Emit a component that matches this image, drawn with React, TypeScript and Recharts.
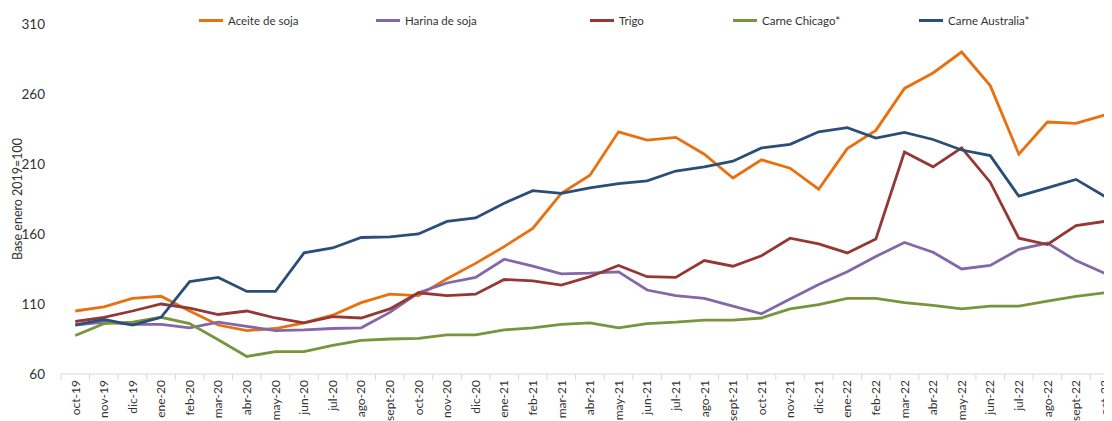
import React from "react";
import { LineChart, Line, XAxis, YAxis } from "recharts";

const months = [
  "oct-19", "nov-19", "dic-19", "ene-20", "feb-20", "mar-20", "abr-20", "may-20",
  "jun-20", "jul-20", "ago-20", "sept-20", "oct-20", "nov-20", "dic-20", "ene-21",
  "feb-21", "mar-21", "abr-21", "may-21", "jun-21", "jul-21", "ago-21", "sept-21",
  "oct-21", "nov-21", "dic-21", "ene-22", "feb-22", "mar-22", "abr-22", "may-22",
  "jun-22", "jul-22", "ago-22", "sept-22", "oct-22",
];

const aceiteSoja = [
  105, 108, 114, 115.5, 105, 95, 91, 92.5, 96.5, 102, 111, 117, 116, 128, 139, 151,
  164, 189, 202, 233, 227, 229, 217, 200, 213, 207, 192, 221, 234, 264, 275, 290,
  266, 217, 240, 239, 245,
];

const harinaSoja = [
  95, 97, 95.5, 95.5, 93, 97, 94, 91, 91.5, 92.5, 93, 104, 118, 125, 129, 142,
  137, 131.5, 132, 133, 120, 116, 114, 108.5, 103, 113.5, 124, 133, 144, 154, 147, 135,
  137.5, 149, 153.5, 141, 132,
];

const trigo = [
  97.5, 100.5, 105, 110, 107, 102.5, 105, 100, 96.5, 101, 100, 106.5, 118, 116, 117, 127.5,
  126.5, 123.5, 129.5, 137.5, 129.5, 129, 141, 137, 144.5, 157, 153, 146.5, 156.5, 218.5, 208, 221.5,
  197, 157, 152.5, 166, 169,
];

const carneChicago = [
  87.5, 96, 97, 100.5, 96, 84.5, 72.5, 76, 76, 80.5, 84, 85, 85.5, 88, 88, 91.5,
  93, 95.5, 96.5, 93, 96, 97, 98.5, 98.5, 100, 106.5, 109.5, 114, 114, 111, 109, 106.5,
  108.5, 108.5, 112, 115.5, 118,
];

const carneAustralia = [
  95, 99, 95, 100.5, 126, 129, 119, 119, 146.5, 150, 157.5, 158, 160, 169, 171.5, 182,
  191, 189, 193, 196, 198, 205, 208, 212, 221.5, 224, 233, 236, 228.5, 232.5, 227.5, 220,
  216, 187, 193, 199, 187,
];

const yTicks = [60, 110, 160, 210, 260, 310];

const series = [
  { key: "aceite", name: "Aceite de soja", color: "#E8700F", values: aceiteSoja },
  { key: "harina", name: "Harina de soja", color: "#8467A8", values: harinaSoja },
  { key: "trigo", name: "Trigo", color: "#953735", values: trigo },
  { key: "chicago", name: "Carne Chicago*", color: "#77953A", values: carneChicago },
  { key: "australia", name: "Carne Australia*", color: "#2B4E78", values: carneAustralia },
];

const data = months.map((month, i) => {
  const row: Record<string, string | number> = { month };
  series.forEach((s) => {
    row[s.key] = s.values[i];
  });
  return row;
});

const FONT = "Lato, 'Open Sans', sans-serif";
const TEXT = "#333333";
const AXIS = "#D9D9D9";
const HALF_BAND = 14.3;

// legend slots as laid out in the source chart
const legendLeft = [191, 368, 582, 725, 911];

const MonthTick = (props: any) => {
  const { x, y, payload } = props;
  return (
    <g>
      <line x1={x - HALF_BAND} x2={x - HALF_BAND} y1={y} y2={y + 6} stroke={AXIS} />
      <text
        transform={`translate(${x},${y + 6}) rotate(-90)`}
        textAnchor="end"
        dy="0.35em"
        fontSize={12}
        fontFamily={FONT}
        fill={TEXT}
      >
        {payload.value}
      </text>
    </g>
  );
};

const YLabel = (props: any) => {
  const { viewBox } = props;
  const cy = viewBox.y + viewBox.height / 2;
  return (
    <text
      transform={`translate(10,${cy}) rotate(-90)`}
      textAnchor="middle"
      dy="0.35em"
      fontSize={12.5}
      fontFamily={FONT}
      fill={TEXT}
    >
      Base enero 2019=100
    </text>
  );
};

export default function App() {
  return (
    <div style={{ position: "relative", width: 1104, height: 413, fontFamily: FONT }}>
      <LineChart
        width={1104}
        height={413}
        data={data}
        margin={{ top: 16, right: 0, bottom: 0, left: 0 }}
      >
        <XAxis
          dataKey="month"
          interval={0}
          padding={{ left: 14.3, right: 7.4 }}
          tick={<MonthTick />}
          tickLine={false}
          tickSize={0}
          tickMargin={0}
          axisLine={{ stroke: AXIS }}
          height={47}
        />
        <YAxis
          domain={[60, 310]}
          ticks={yTicks}
          width={53}
          axisLine={false}
          tickLine={false}
          tickSize={0}
          tickMargin={16}
          tick={{ fontSize: 13.5, fill: TEXT, fontFamily: FONT }}
          label={<YLabel />}
        />
        {series.map((s) => (
          <Line
            key={s.key}
            dataKey={s.key}
            name={s.name}
            stroke={s.color}
            strokeWidth={2.8}
            dot={false}
            activeDot={false}
            type="linear"
            isAnimationActive={false}
          />
        ))}
      </LineChart>
      {series.map((s, i) => (
        <div
          key={s.key}
          style={{
            position: "absolute",
            left: legendLeft[i],
            top: 6,
            display: "flex",
            alignItems: "center",
            fontSize: 11.5,
            color: TEXT,
            whiteSpace: "nowrap",
          }}
        >
          <span
            style={{
              display: "inline-block",
              width: 24,
              height: 3,
              background: s.color,
              marginRight: 5,
            }}
          />
          {s.name}
        </div>
      ))}
    </div>
  );
}
